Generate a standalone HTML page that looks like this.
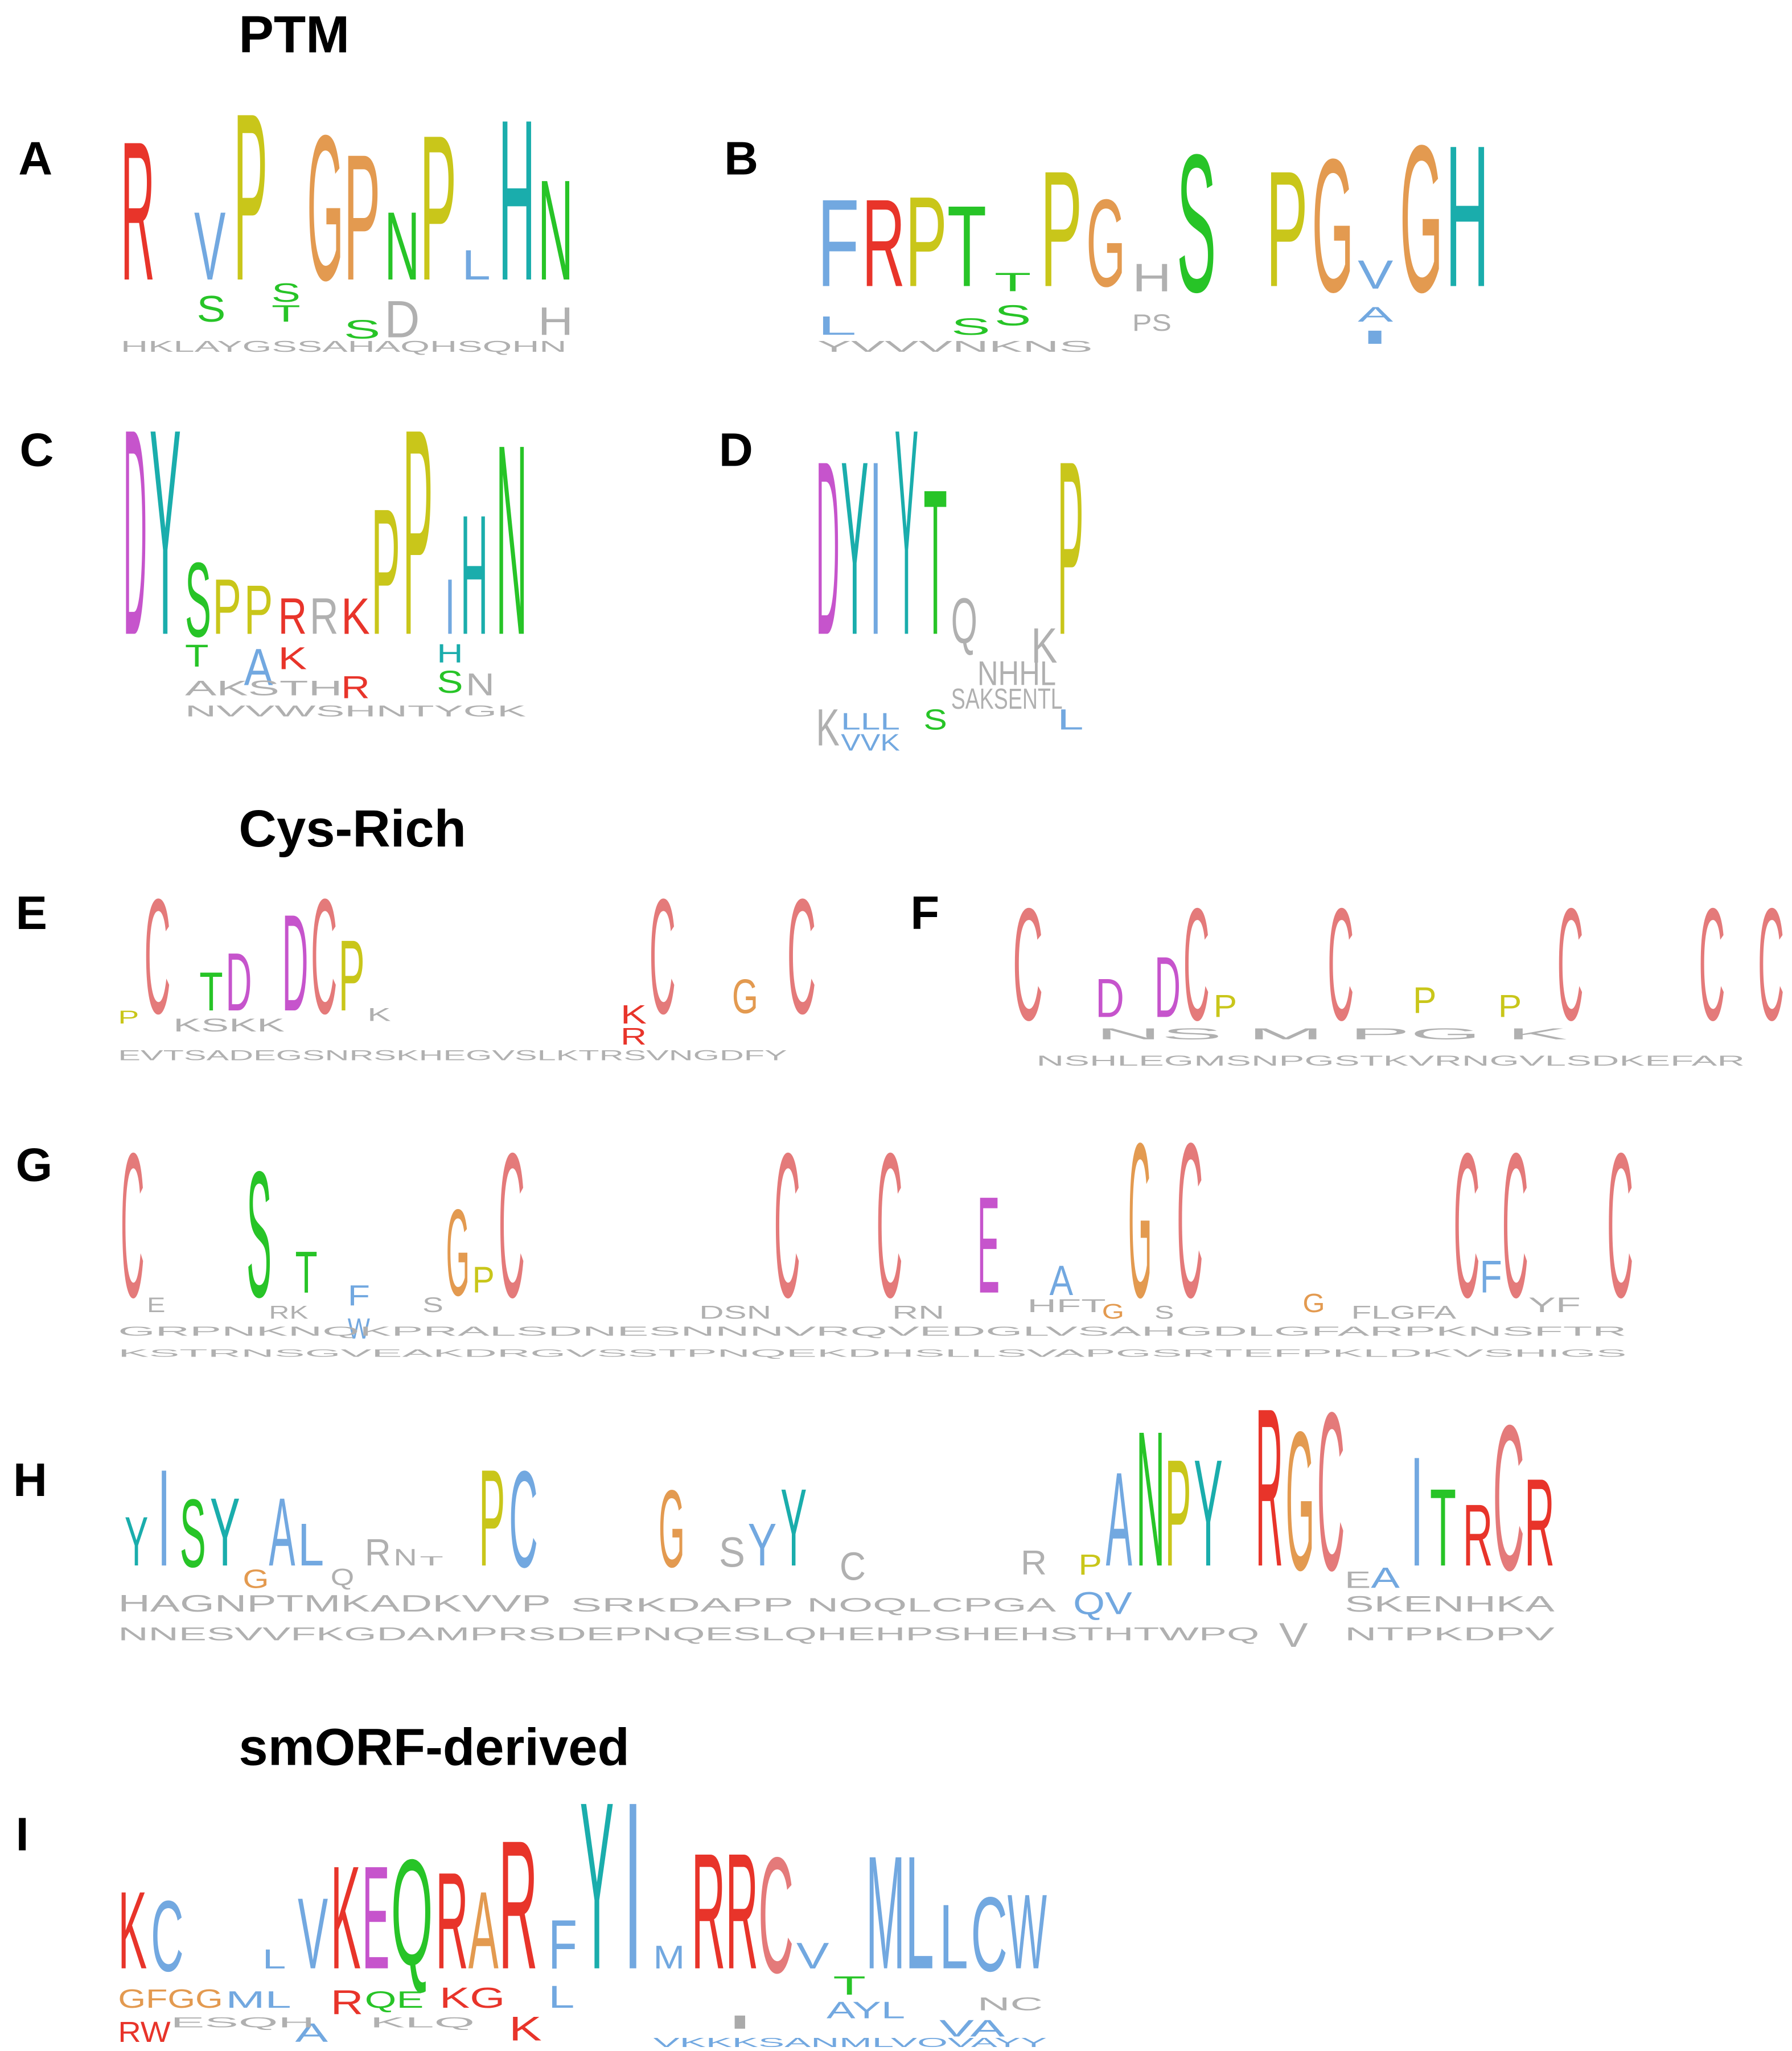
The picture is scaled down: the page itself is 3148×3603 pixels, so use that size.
<!DOCTYPE html>
<html><head><meta charset="utf-8">
<style>
html,body{margin:0;padding:0;background:#fff;}
svg{display:block}
text{font-family:"Liberation Sans",Arial,sans-serif;}
.r{fill:#e8342a}.b{fill:#72a8e0}.y{fill:#c9c61a}.o{fill:#e39a50}.g{fill:#27c427}.t{fill:#1aadac}.m{fill:#c654cc}.p{fill:#e47a7a}.k{fill:#b0b0b0}
.h{font-weight:bold;fill:#000}
</style></head>
<body>
<svg width="3148" height="3603" viewBox="0 0 1366 1563" preserveAspectRatio="none" xmlns="http://www.w3.org/2000/svg">
<g class="h">
<text x="182" y="40" font-size="40">PTM</text>
<text x="182" y="645" font-size="40">Cys-Rich</text>
<text x="182" y="1345" font-size="40">smORF-derived</text>
<text x="14" y="133" font-size="36">A</text>
<text x="552" y="133" font-size="36">B</text>
<text x="15" y="355" font-size="36">C</text>
<text x="548" y="355" font-size="36">D</text>
<text x="12" y="708" font-size="36">E</text>
<text x="694" y="708" font-size="36">F</text>
<text x="12" y="900" font-size="36">G</text>
<text x="10" y="1140" font-size="36">H</text>
<text x="12" y="1410" font-size="36">I</text>
</g>
<g>
<!-- A -->
<text class="r" x="92" y="213" font-size="151" textLength="26" lengthAdjust="spacingAndGlyphs">R</text>
<text class="b" x="148" y="213" font-size="74" textLength="24" lengthAdjust="spacingAndGlyphs">V</text>
<text class="y" x="178" y="213" font-size="182" textLength="26" lengthAdjust="spacingAndGlyphs">P</text>
<text class="o" x="234" y="213" font-size="158" textLength="28" lengthAdjust="spacingAndGlyphs">G</text>
<text class="o" x="262" y="213" font-size="137" textLength="28" lengthAdjust="spacingAndGlyphs">P</text>
<text class="g" x="293" y="213" font-size="74" textLength="27" lengthAdjust="spacingAndGlyphs">N</text>
<text class="y" x="320" y="213" font-size="158" textLength="28" lengthAdjust="spacingAndGlyphs">P</text>
<text class="b" x="352" y="213" font-size="32" textLength="22" lengthAdjust="spacingAndGlyphs">L</text>
<text class="t" x="380" y="213" font-size="175" textLength="28" lengthAdjust="spacingAndGlyphs">H</text>
<text class="g" x="410" y="213" font-size="109" textLength="27" lengthAdjust="spacingAndGlyphs">N</text>
<text class="g" x="150" y="245" font-size="28" textLength="22" lengthAdjust="spacingAndGlyphs">S</text>
<text class="g" x="207" y="230" font-size="20" textLength="22" lengthAdjust="spacingAndGlyphs">S</text>
<text class="g" x="207" y="245" font-size="18" textLength="22" lengthAdjust="spacingAndGlyphs">T</text>
<text class="k" x="293" y="257" font-size="40" textLength="27" lengthAdjust="spacingAndGlyphs">D</text>
<text class="k" x="410" y="255" font-size="30" textLength="27" lengthAdjust="spacingAndGlyphs">H</text>
<text class="g" x="262" y="258" font-size="20" textLength="28" lengthAdjust="spacingAndGlyphs">S</text>
<text class="k" x="92" y="268" font-size="12" textLength="340" lengthAdjust="spacingAndGlyphs">HKLAYGSSAHAQHSQHN</text>
<!-- B -->
<text class="b" x="623" y="218" font-size="95" textLength="32" lengthAdjust="spacingAndGlyphs">F</text>
<text class="r" x="657" y="218" font-size="95" textLength="33" lengthAdjust="spacingAndGlyphs">R</text>
<text class="y" x="690" y="218" font-size="98" textLength="32" lengthAdjust="spacingAndGlyphs">P</text>
<text class="g" x="722" y="218" font-size="88" textLength="30" lengthAdjust="spacingAndGlyphs">T</text>
<text class="g" x="758" y="222" font-size="20" textLength="28" lengthAdjust="spacingAndGlyphs">T</text>
<text class="y" x="793" y="218" font-size="126" textLength="32" lengthAdjust="spacingAndGlyphs">P</text>
<text class="o" x="828" y="218" font-size="95" textLength="30" lengthAdjust="spacingAndGlyphs">G</text>
<text class="k" x="863" y="222" font-size="30" textLength="30" lengthAdjust="spacingAndGlyphs">H</text>
<text class="g" x="897" y="222" font-size="150" textLength="30" lengthAdjust="spacingAndGlyphs">S</text>
<text class="y" x="965" y="218" font-size="126" textLength="32" lengthAdjust="spacingAndGlyphs">P</text>
<text class="o" x="1000" y="222" font-size="145" textLength="32" lengthAdjust="spacingAndGlyphs">G</text>
<text class="b" x="1035" y="220" font-size="31" textLength="27" lengthAdjust="spacingAndGlyphs">V</text>
<text class="o" x="1067" y="222" font-size="160" textLength="33" lengthAdjust="spacingAndGlyphs">G</text>
<text class="t" x="1102" y="218" font-size="154" textLength="33" lengthAdjust="spacingAndGlyphs">H</text>
<text class="g" x="758" y="248" font-size="22" textLength="28" lengthAdjust="spacingAndGlyphs">S</text>
<text class="g" x="725" y="255" font-size="18" textLength="30" lengthAdjust="spacingAndGlyphs">S</text>
<text class="b" x="623" y="255" font-size="20" textLength="30" lengthAdjust="spacingAndGlyphs">L</text>
<text class="b" x="1035" y="245" font-size="16" textLength="27" lengthAdjust="spacingAndGlyphs">A</text>
<rect x="1043" y="252" width="10" height="10" fill="#72a8e0"/>
<text class="k" x="623" y="268" font-size="12" textLength="210" lengthAdjust="spacingAndGlyphs">YVVVNKNS</text>
<text class="k" x="863" y="252" font-size="18" textLength="30" lengthAdjust="spacingAndGlyphs">PS</text>
<!-- C -->
<text class="m" x="94" y="483" font-size="224" textLength="18" lengthAdjust="spacingAndGlyphs">D</text>
<text class="t" x="114" y="483" font-size="224" textLength="24" lengthAdjust="spacingAndGlyphs">Y</text>
<text class="g" x="141" y="485" font-size="81" textLength="20" lengthAdjust="spacingAndGlyphs">S</text>
<text class="y" x="162" y="483" font-size="60" textLength="22" lengthAdjust="spacingAndGlyphs">P</text>
<text class="y" x="186" y="483" font-size="53" textLength="22" lengthAdjust="spacingAndGlyphs">P</text>
<text class="r" x="212" y="483" font-size="39" textLength="22" lengthAdjust="spacingAndGlyphs">R</text>
<text class="k" x="236" y="483" font-size="39" textLength="22" lengthAdjust="spacingAndGlyphs">R</text>
<text class="r" x="260" y="483" font-size="39" textLength="22" lengthAdjust="spacingAndGlyphs">K</text>
<text class="y" x="283" y="483" font-size="137" textLength="22" lengthAdjust="spacingAndGlyphs">P</text>
<text class="y" x="307" y="483" font-size="224" textLength="23" lengthAdjust="spacingAndGlyphs">P</text>
<text class="b" x="339" y="483" font-size="60" textLength="8" lengthAdjust="spacingAndGlyphs">I</text>
<text class="t" x="351" y="483" font-size="130" textLength="21" lengthAdjust="spacingAndGlyphs">H</text>
<text class="g" x="378" y="483" font-size="207" textLength="24" lengthAdjust="spacingAndGlyphs">N</text>
<text class="g" x="141" y="508" font-size="24" textLength="18" lengthAdjust="spacingAndGlyphs">T</text>
<text class="b" x="186" y="522" font-size="40" textLength="22" lengthAdjust="spacingAndGlyphs">A</text>
<text class="r" x="212" y="510" font-size="24" textLength="22" lengthAdjust="spacingAndGlyphs">K</text>
<text class="r" x="260" y="532" font-size="24" textLength="22" lengthAdjust="spacingAndGlyphs">R</text>
<text class="t" x="333" y="505" font-size="20" textLength="20" lengthAdjust="spacingAndGlyphs">H</text>
<text class="g" x="333" y="528" font-size="24" textLength="20" lengthAdjust="spacingAndGlyphs">S</text>
<text class="k" x="355" y="530" font-size="24" textLength="22" lengthAdjust="spacingAndGlyphs">N</text>
<text class="k" x="141" y="530" font-size="16" textLength="120" lengthAdjust="spacingAndGlyphs">AKSTH</text>
<text class="k" x="141" y="546" font-size="12" textLength="260" lengthAdjust="spacingAndGlyphs">NVVWSHNTYGK</text>
<!-- D -->
<text class="m" x="622" y="483" font-size="189" textLength="18" lengthAdjust="spacingAndGlyphs">D</text>
<text class="t" x="641" y="483" font-size="189" textLength="21" lengthAdjust="spacingAndGlyphs">Y</text>
<text class="b" x="663" y="483" font-size="189" textLength="9" lengthAdjust="spacingAndGlyphs">I</text>
<text class="t" x="682" y="483" font-size="224" textLength="18" lengthAdjust="spacingAndGlyphs">Y</text>
<text class="g" x="704" y="483" font-size="158" textLength="18" lengthAdjust="spacingAndGlyphs">T</text>
<text class="k" x="725" y="490" font-size="49" textLength="20" lengthAdjust="spacingAndGlyphs">Q</text>
<text class="y" x="806" y="483" font-size="189" textLength="20" lengthAdjust="spacingAndGlyphs">P</text>
<text class="k" x="786" y="505" font-size="38" textLength="20" lengthAdjust="spacingAndGlyphs">K</text>
<text class="k" x="745" y="522" font-size="26" textLength="60" lengthAdjust="spacingAndGlyphs">NHHL</text>
<text class="k" x="725" y="540" font-size="22" textLength="85" lengthAdjust="spacingAndGlyphs">SAKSENTL</text>
<text class="k" x="622" y="568" font-size="40" textLength="18" lengthAdjust="spacingAndGlyphs">K</text>
<text class="b" x="641" y="556" font-size="18" textLength="45" lengthAdjust="spacingAndGlyphs">LLL</text>
<text class="b" x="641" y="572" font-size="18" textLength="45" lengthAdjust="spacingAndGlyphs">VVK</text>
<text class="g" x="704" y="556" font-size="22" textLength="18" lengthAdjust="spacingAndGlyphs">S</text>
<text class="b" x="806" y="556" font-size="22" textLength="20" lengthAdjust="spacingAndGlyphs">L</text>
<!-- E -->
<text class="p" x="110" y="772" font-size="125" textLength="20" lengthAdjust="spacingAndGlyphs">C</text>
<text class="g" x="152" y="770" font-size="42" textLength="18" lengthAdjust="spacingAndGlyphs">T</text>
<text class="m" x="172" y="770" font-size="63" textLength="20" lengthAdjust="spacingAndGlyphs">D</text>
<text class="m" x="215" y="770" font-size="105" textLength="20" lengthAdjust="spacingAndGlyphs">D</text>
<text class="p" x="237" y="772" font-size="125" textLength="20" lengthAdjust="spacingAndGlyphs">C</text>
<text class="y" x="258" y="770" font-size="77" textLength="20" lengthAdjust="spacingAndGlyphs">P</text>
<text class="p" x="495" y="772" font-size="125" textLength="20" lengthAdjust="spacingAndGlyphs">C</text>
<text class="o" x="558" y="772" font-size="37" textLength="20" lengthAdjust="spacingAndGlyphs">G</text>
<text class="p" x="600" y="772" font-size="125" textLength="22" lengthAdjust="spacingAndGlyphs">C</text>
<text class="r" x="473" y="780" font-size="20" textLength="20" lengthAdjust="spacingAndGlyphs">K</text>
<text class="r" x="473" y="796" font-size="18" textLength="20" lengthAdjust="spacingAndGlyphs">R</text>
<text class="y" x="90" y="780" font-size="14" textLength="16" lengthAdjust="spacingAndGlyphs">P</text>
<text class="k" x="132" y="786" font-size="14" textLength="85" lengthAdjust="spacingAndGlyphs">KSKK</text>
<text class="k" x="280" y="778" font-size="14" textLength="18" lengthAdjust="spacingAndGlyphs">K</text>
<text class="k" x="90" y="808" font-size="11" textLength="510" lengthAdjust="spacingAndGlyphs">EVTSADEGSNRSKHEGVSLKTRSVNGDFY</text>
<!-- F -->
<text class="p" x="772" y="777" font-size="122" textLength="23" lengthAdjust="spacingAndGlyphs">C</text>
<text class="m" x="835" y="775" font-size="42" textLength="22" lengthAdjust="spacingAndGlyphs">D</text>
<text class="m" x="880" y="775" font-size="66" textLength="20" lengthAdjust="spacingAndGlyphs">D</text>
<text class="p" x="902" y="777" font-size="122" textLength="20" lengthAdjust="spacingAndGlyphs">C</text>
<text class="y" x="925" y="775" font-size="24" textLength="18" lengthAdjust="spacingAndGlyphs">P</text>
<text class="p" x="1012" y="777" font-size="122" textLength="20" lengthAdjust="spacingAndGlyphs">C</text>
<text class="y" x="1077" y="772" font-size="28" textLength="18" lengthAdjust="spacingAndGlyphs">P</text>
<text class="y" x="1142" y="775" font-size="24" textLength="18" lengthAdjust="spacingAndGlyphs">P</text>
<text class="p" x="1187" y="777" font-size="122" textLength="20" lengthAdjust="spacingAndGlyphs">C</text>
<text class="p" x="1295" y="777" font-size="122" textLength="20" lengthAdjust="spacingAndGlyphs">C</text>
<text class="p" x="1340" y="777" font-size="122" textLength="20" lengthAdjust="spacingAndGlyphs">C</text>
<text class="k" x="835" y="792" font-size="12" textLength="360" lengthAdjust="spacingAndGlyphs">NS  M PG    K</text>
<text class="k" x="790" y="812" font-size="11" textLength="540" lengthAdjust="spacingAndGlyphs">NSHLEGMSNPGSTKVRNGVLSDKEFAR</text>
<!-- G -->
<text class="p" x="92" y="988" font-size="157" textLength="18" lengthAdjust="spacingAndGlyphs">C</text>
<text class="g" x="188" y="988" font-size="137" textLength="19" lengthAdjust="spacingAndGlyphs">S</text>
<text class="g" x="225" y="985" font-size="45" textLength="17" lengthAdjust="spacingAndGlyphs">T</text>
<text class="b" x="265" y="995" font-size="22" textLength="17" lengthAdjust="spacingAndGlyphs">F</text>
<text class="o" x="340" y="987" font-size="94" textLength="18" lengthAdjust="spacingAndGlyphs">G</text>
<text class="y" x="360" y="985" font-size="28" textLength="17" lengthAdjust="spacingAndGlyphs">P</text>
<text class="p" x="380" y="988" font-size="157" textLength="20" lengthAdjust="spacingAndGlyphs">C</text>
<text class="p" x="590" y="988" font-size="157" textLength="20" lengthAdjust="spacingAndGlyphs">C</text>
<text class="p" x="668" y="988" font-size="157" textLength="20" lengthAdjust="spacingAndGlyphs">C</text>
<text class="m" x="745" y="985" font-size="105" textLength="17" lengthAdjust="spacingAndGlyphs">E</text>
<text class="b" x="800" y="987" font-size="32" textLength="18" lengthAdjust="spacingAndGlyphs">A</text>
<text class="o" x="860" y="988" font-size="168" textLength="18" lengthAdjust="spacingAndGlyphs">G</text>
<text class="p" x="897" y="988" font-size="168" textLength="20" lengthAdjust="spacingAndGlyphs">C</text>
<text class="p" x="1108" y="988" font-size="157" textLength="20" lengthAdjust="spacingAndGlyphs">C</text>
<text class="b" x="1128" y="985" font-size="35" textLength="17" lengthAdjust="spacingAndGlyphs">F</text>
<text class="p" x="1145" y="988" font-size="157" textLength="20" lengthAdjust="spacingAndGlyphs">C</text>
<text class="p" x="1225" y="988" font-size="157" textLength="20" lengthAdjust="spacingAndGlyphs">C</text>
<text class="b" x="265" y="1020" font-size="22" textLength="17" lengthAdjust="spacingAndGlyphs">W</text>
<text class="o" x="993" y="1000" font-size="20" textLength="17" lengthAdjust="spacingAndGlyphs">G</text>
<text class="o" x="840" y="1005" font-size="16" textLength="17" lengthAdjust="spacingAndGlyphs">G</text>
<text class="k" x="112" y="1000" font-size="16" textLength="14" lengthAdjust="spacingAndGlyphs">E</text>
<text class="k" x="205" y="1005" font-size="14" textLength="30" lengthAdjust="spacingAndGlyphs">RK</text>
<text class="k" x="322" y="1000" font-size="16" textLength="16" lengthAdjust="spacingAndGlyphs">S</text>
<text class="k" x="533" y="1005" font-size="14" textLength="55" lengthAdjust="spacingAndGlyphs">DSN</text>
<text class="k" x="680" y="1005" font-size="14" textLength="40" lengthAdjust="spacingAndGlyphs">RN</text>
<text class="k" x="783" y="1000" font-size="14" textLength="60" lengthAdjust="spacingAndGlyphs">HFT</text>
<text class="k" x="880" y="1005" font-size="14" textLength="15" lengthAdjust="spacingAndGlyphs">S</text>
<text class="k" x="1030" y="1005" font-size="14" textLength="80" lengthAdjust="spacingAndGlyphs">FLGFA</text>
<text class="k" x="1165" y="1000" font-size="16" textLength="40" lengthAdjust="spacingAndGlyphs">YF</text>
<text class="k" x="90" y="1018" font-size="10" textLength="1150" lengthAdjust="spacingAndGlyphs">GRPNKNQKPRALSDNESNNNVRQVEDGLVSAHGDLGFARPKNSFTR</text>
<text class="k" x="90" y="1034" font-size="8" textLength="1150" lengthAdjust="spacingAndGlyphs">KSTRNSGVEAKDRGVSSTPNQEKDHSLLSVAPGSRTEFPKLDKVSHIGS</text>
<!-- H -->
<text class="t" x="95" y="1193" font-size="53" textLength="18" lengthAdjust="spacingAndGlyphs">Y</text>
<text class="b" x="120" y="1193" font-size="105" textLength="10" lengthAdjust="spacingAndGlyphs">I</text>
<text class="g" x="137" y="1194" font-size="74" textLength="20" lengthAdjust="spacingAndGlyphs">S</text>
<text class="t" x="160" y="1193" font-size="74" textLength="23" lengthAdjust="spacingAndGlyphs">Y</text>
<text class="b" x="205" y="1193" font-size="74" textLength="20" lengthAdjust="spacingAndGlyphs">A</text>
<text class="b" x="227" y="1193" font-size="46" textLength="20" lengthAdjust="spacingAndGlyphs">L</text>
<text class="k" x="278" y="1193" font-size="29" textLength="20" lengthAdjust="spacingAndGlyphs">R</text>
<text class="k" x="300" y="1193" font-size="18" textLength="18" lengthAdjust="spacingAndGlyphs">N</text>
<text class="k" x="320" y="1193" font-size="10" textLength="18" lengthAdjust="spacingAndGlyphs">T</text>
<text class="y" x="365" y="1193" font-size="105" textLength="20" lengthAdjust="spacingAndGlyphs">P</text>
<text class="b" x="388" y="1194" font-size="105" textLength="22" lengthAdjust="spacingAndGlyphs">C</text>
<text class="o" x="502" y="1194" font-size="84" textLength="20" lengthAdjust="spacingAndGlyphs">G</text>
<text class="k" x="548" y="1194" font-size="32" textLength="20" lengthAdjust="spacingAndGlyphs">S</text>
<text class="b" x="570" y="1193" font-size="46" textLength="22" lengthAdjust="spacingAndGlyphs">Y</text>
<text class="t" x="595" y="1193" font-size="84" textLength="20" lengthAdjust="spacingAndGlyphs">Y</text>
<text class="k" x="640" y="1204" font-size="30" textLength="20" lengthAdjust="spacingAndGlyphs">C</text>
<text class="k" x="778" y="1200" font-size="26" textLength="20" lengthAdjust="spacingAndGlyphs">R</text>
<text class="y" x="822" y="1200" font-size="22" textLength="18" lengthAdjust="spacingAndGlyphs">P</text>
<text class="b" x="843" y="1193" font-size="102" textLength="20" lengthAdjust="spacingAndGlyphs">A</text>
<text class="g" x="866" y="1193" font-size="147" textLength="22" lengthAdjust="spacingAndGlyphs">N</text>
<text class="y" x="888" y="1193" font-size="116" textLength="20" lengthAdjust="spacingAndGlyphs">P</text>
<text class="t" x="910" y="1193" font-size="116" textLength="22" lengthAdjust="spacingAndGlyphs">Y</text>
<text class="r" x="957" y="1193" font-size="172" textLength="21" lengthAdjust="spacingAndGlyphs">R</text>
<text class="o" x="980" y="1196" font-size="151" textLength="22" lengthAdjust="spacingAndGlyphs">G</text>
<text class="p" x="1004" y="1196" font-size="172" textLength="21" lengthAdjust="spacingAndGlyphs">C</text>
<text class="b" x="1075" y="1193" font-size="119" textLength="10" lengthAdjust="spacingAndGlyphs">I</text>
<text class="g" x="1090" y="1193" font-size="84" textLength="20" lengthAdjust="spacingAndGlyphs">T</text>
<text class="r" x="1115" y="1193" font-size="67" textLength="23" lengthAdjust="spacingAndGlyphs">R</text>
<text class="p" x="1138" y="1196" font-size="158" textLength="24" lengthAdjust="spacingAndGlyphs">C</text>
<text class="r" x="1162" y="1193" font-size="95" textLength="23" lengthAdjust="spacingAndGlyphs">R</text>
<text class="o" x="185" y="1210" font-size="20" textLength="20" lengthAdjust="spacingAndGlyphs">G</text>
<text class="k" x="252" y="1208" font-size="18" textLength="18" lengthAdjust="spacingAndGlyphs">Q</text>
<text class="b" x="1045" y="1210" font-size="22" textLength="22" lengthAdjust="spacingAndGlyphs">A</text>
<text class="k" x="1025" y="1210" font-size="18" textLength="20" lengthAdjust="spacingAndGlyphs">E</text>
<text class="b" x="818" y="1230" font-size="24" textLength="45" lengthAdjust="spacingAndGlyphs">QV</text>
<text class="k" x="975" y="1255" font-size="26" textLength="22" lengthAdjust="spacingAndGlyphs">V</text>
<text class="k" x="90" y="1228" font-size="18" textLength="330" lengthAdjust="spacingAndGlyphs">HAGNPTMKADKVVP</text>
<text class="k" x="435" y="1228" font-size="15" textLength="170" lengthAdjust="spacingAndGlyphs">SRKDAPP</text>
<text class="k" x="615" y="1228" font-size="15" textLength="190" lengthAdjust="spacingAndGlyphs">NOQLCPGA</text>
<text class="k" x="1025" y="1228" font-size="17" textLength="160" lengthAdjust="spacingAndGlyphs">SKENHKA</text>
<text class="k" x="90" y="1250" font-size="14" textLength="870" lengthAdjust="spacingAndGlyphs">NNESVVFKGDAMPRSDEPNQESLQHEHPSHEHSTHTWPQ</text>
<text class="k" x="1025" y="1250" font-size="14" textLength="160" lengthAdjust="spacingAndGlyphs">NTPKDPV</text>
<!-- I -->
<text class="r" x="90" y="1500" font-size="84" textLength="22" lengthAdjust="spacingAndGlyphs">K</text>
<text class="b" x="115" y="1502" font-size="77" textLength="25" lengthAdjust="spacingAndGlyphs">C</text>
<text class="b" x="200" y="1500" font-size="21" textLength="18" lengthAdjust="spacingAndGlyphs">L</text>
<text class="b" x="227" y="1500" font-size="77" textLength="23" lengthAdjust="spacingAndGlyphs">V</text>
<text class="r" x="252" y="1500" font-size="112" textLength="23" lengthAdjust="spacingAndGlyphs">K</text>
<text class="m" x="276" y="1500" font-size="112" textLength="21" lengthAdjust="spacingAndGlyphs">E</text>
<text class="g" x="298" y="1497" font-size="115" textLength="32" lengthAdjust="spacingAndGlyphs">Q</text>
<text class="r" x="332" y="1500" font-size="105" textLength="25" lengthAdjust="spacingAndGlyphs">R</text>
<text class="o" x="357" y="1500" font-size="84" textLength="23" lengthAdjust="spacingAndGlyphs">A</text>
<text class="r" x="380" y="1500" font-size="140" textLength="30" lengthAdjust="spacingAndGlyphs">R</text>
<text class="b" x="418" y="1500" font-size="53" textLength="22" lengthAdjust="spacingAndGlyphs">F</text>
<text class="t" x="442" y="1500" font-size="182" textLength="26" lengthAdjust="spacingAndGlyphs">Y</text>
<text class="b" x="475" y="1500" font-size="182" textLength="15" lengthAdjust="spacingAndGlyphs">I</text>
<text class="b" x="498" y="1500" font-size="25" textLength="24" lengthAdjust="spacingAndGlyphs">M</text>
<text class="r" x="527" y="1500" font-size="126" textLength="26" lengthAdjust="spacingAndGlyphs">R</text>
<text class="r" x="553" y="1500" font-size="126" textLength="25" lengthAdjust="spacingAndGlyphs">R</text>
<text class="p" x="578" y="1503" font-size="126" textLength="27" lengthAdjust="spacingAndGlyphs">C</text>
<text class="b" x="607" y="1500" font-size="28" textLength="25" lengthAdjust="spacingAndGlyphs">V</text>
<text class="b" x="660" y="1500" font-size="123" textLength="30" lengthAdjust="spacingAndGlyphs">M</text>
<text class="b" x="690" y="1500" font-size="123" textLength="22" lengthAdjust="spacingAndGlyphs">L</text>
<text class="b" x="716" y="1500" font-size="70" textLength="22" lengthAdjust="spacingAndGlyphs">L</text>
<text class="b" x="740" y="1502" font-size="81" textLength="28" lengthAdjust="spacingAndGlyphs">C</text>
<text class="b" x="768" y="1500" font-size="81" textLength="30" lengthAdjust="spacingAndGlyphs">W</text>
<text class="o" x="90" y="1530" font-size="20" textLength="80" lengthAdjust="spacingAndGlyphs">GFGG</text>
<text class="b" x="172" y="1530" font-size="18" textLength="50" lengthAdjust="spacingAndGlyphs">ML</text>
<text class="r" x="252" y="1535" font-size="26" textLength="25" lengthAdjust="spacingAndGlyphs">R</text>
<text class="g" x="278" y="1530" font-size="18" textLength="45" lengthAdjust="spacingAndGlyphs">QE</text>
<text class="r" x="335" y="1530" font-size="22" textLength="50" lengthAdjust="spacingAndGlyphs">KG</text>
<text class="r" x="388" y="1555" font-size="26" textLength="25" lengthAdjust="spacingAndGlyphs">K</text>
<text class="b" x="418" y="1530" font-size="24" textLength="20" lengthAdjust="spacingAndGlyphs">L</text>
<text class="r" x="90" y="1556" font-size="22" textLength="40" lengthAdjust="spacingAndGlyphs">RW</text>
<text class="b" x="225" y="1556" font-size="20" textLength="25" lengthAdjust="spacingAndGlyphs">A</text>
<text class="g" x="635" y="1520" font-size="20" textLength="25" lengthAdjust="spacingAndGlyphs">T</text>
<text class="b" x="630" y="1538" font-size="18" textLength="60" lengthAdjust="spacingAndGlyphs">AYL</text>
<text class="b" x="716" y="1552" font-size="18" textLength="50" lengthAdjust="spacingAndGlyphs">VA</text>
<text class="k" x="745" y="1532" font-size="14" textLength="50" lengthAdjust="spacingAndGlyphs">NC</text>
<text class="k" x="130" y="1545" font-size="11" textLength="110" lengthAdjust="spacingAndGlyphs">ESQH</text>
<text class="k" x="282" y="1545" font-size="11" textLength="80" lengthAdjust="spacingAndGlyphs">KLQ</text>
<text class="b" x="498" y="1560" font-size="10" textLength="300" lengthAdjust="spacingAndGlyphs">VKKKSANMLVOVAYY</text>
<rect x="560" y="1536" width="8" height="10" fill="#aaa"/>
</g>
</svg>
</body></html>
